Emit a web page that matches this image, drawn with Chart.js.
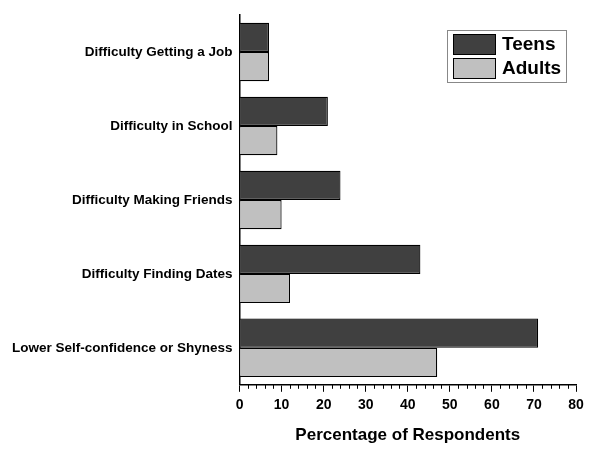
<!DOCTYPE html>
<html>
<head>
<meta charset="utf-8">
<script src="https://cdn.jsdelivr.net/npm/chart.js@4.4.1/dist/chart.umd.min.js"></script>
<style>
  html, body { margin: 0; padding: 0; background: #fff; }
  #wrap { width: 600px; height: 450px; }
</style>
</head>
<body>
<div id="wrap"><canvas id="chart"></canvas></div>
<script>
var categories = [
    'Difficulty Getting a Job',
    'Difficulty in School',
    'Difficulty Making Friends',
    'Difficulty Finding Dates',
    'Lower Self-confidence or Shyness'
];
var teens = [7, 21, 24, 43, 71];
var adults = [7, 9, 10, 12, 47];
var xTicks = [0, 10, 20, 30, 40, 50, 60, 70, 80];

var FONT = '"Liberation Sans", Arial, sans-serif';

// small ticks every 2 units below the x axis
var minorTicks = {
    id: 'minorTicks',
    afterDraw: function (chart) {
        var x = chart.scales.x;
        var ctx = chart.ctx;
        var y0 = x.top;
        ctx.save();
        ctx.strokeStyle = '#000';
        ctx.lineWidth = 1;
        for (var v = 0; v <= 80; v += 2) {
            if (v % 10 === 0) continue;
            var px = Math.round(x.getPixelForValue(v)) + 0.5;
            ctx.beginPath();
            ctx.moveTo(px, y0);
            ctx.lineTo(px, y0 + 4);
            ctx.stroke();
        }
        ctx.restore();
    }
};

// boxed legend inside the top right corner
var boxLegend = {
    id: 'boxLegend',
    afterDraw: function (chart) {
        var ctx = chart.ctx;
        var sets = chart.data.datasets;
        var left = 447, top = 30, w = 119, rowH = 24;
        ctx.save();
        ctx.fillStyle = '#fff';
        ctx.fillRect(left, top, w, 52);
        ctx.strokeStyle = '#888';
        ctx.lineWidth = 1;
        ctx.strokeRect(left + 0.5, top + 0.5, w, 52);
        ctx.font = 'bold 19px ' + FONT;
        ctx.textBaseline = 'middle';
        sets.forEach(function (ds, i) {
            var y = top + 4 + i * rowH;
            ctx.fillStyle = ds.backgroundColor;
            ctx.fillRect(left + 6, y, 42, 20);
            ctx.strokeStyle = '#000';
            ctx.strokeRect(left + 6.5, y + 0.5, 42, 20);
            ctx.fillStyle = '#000';
            ctx.fillText(ds.label, left + 55, y + 11);
        });
        ctx.restore();
    }
};

new Chart(document.getElementById('chart'), {
    type: 'bar',
    data: {
        labels: categories,
        datasets: [
            { label: 'Teens', data: teens, backgroundColor: '#404040', borderColor: '#000', borderWidth: 1.2 },
            { label: 'Adults', data: adults, backgroundColor: '#c0c0c0', borderColor: '#000', borderWidth: 1.2 }
        ]
    },
    options: {
        indexAxis: 'y',
        responsive: true,
        maintainAspectRatio: false,
        animation: false,
        layout: { padding: { top: 15, right: 24, bottom: 4, left: 5 } },
        datasets: { bar: { categoryPercentage: 0.79, barPercentage: 1 } },
        plugins: {
            legend: { display: false },
            tooltip: { enabled: false }
        },
        scales: {
            x: {
                min: 0,
                max: 80,
                afterBuildTicks: function (scale) {
                    scale.ticks = xTicks.map(function (v) { return { value: v }; });
                },
                grid: { drawOnChartArea: false, color: '#000', tickLength: 7, tickWidth: 1 },
                border: { color: '#000', width: 1.5 },
                ticks: { color: '#000', font: { family: FONT, size: 14, weight: 'bold' }, padding: 5 },
                title: {
                    display: true,
                    text: 'Percentage of Respondents',
                    color: '#000',
                    font: { family: FONT, size: 17, weight: 'bold' },
                    padding: { top: 7, bottom: 0 }
                }
            },
            y: {
                grid: { display: false, drawTicks: false },
                border: { color: '#000', width: 1.5 },
                ticks: { color: '#000', font: { family: FONT, size: 13.5, weight: 'bold' }, padding: 7 }
            }
        }
    },
    plugins: [minorTicks, boxLegend]
});
</script>
</body>
</html>
